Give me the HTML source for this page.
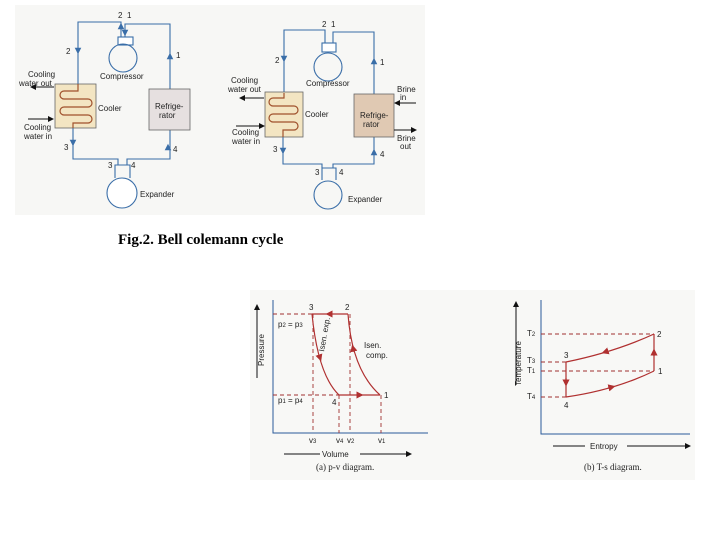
<!DOCTYPE html>
<html><head><meta charset="utf-8"><style>
html,body{margin:0;padding:0;background:#fff;width:720px;height:540px;overflow:hidden}
svg{display:block}
text{font-family:"Liberation Sans",sans-serif;font-size:8px;fill:#222}
.s{font-family:"Liberation Serif",serif}
</style></head><body>
<svg width="720" height="540" viewBox="0 0 720 540">
<defs>
<marker id="a" markerWidth="6" markerHeight="6" refX="3" refY="3" orient="auto"><path d="M0,0L6,3L0,6z" fill="#3a6ea8"/></marker>
<marker id="k" markerWidth="6" markerHeight="6" refX="5" refY="3" orient="auto"><path d="M0,0L6,3L0,6z" fill="#111"/></marker>
<marker id="r" markerWidth="6" markerHeight="6" refX="3" refY="3" orient="auto"><path d="M0,0L6,3L0,6z" fill="#b03030"/></marker>
</defs>
<rect x="15" y="5" width="410" height="210" fill="#f7f7f5"/>
<rect x="250" y="290" width="445" height="190" fill="#f8f8f6"/>
<g stroke="#3a6ea8" stroke-width="1.1" fill="none">
<path d="M78,84V22H121V37M125,37V24H170V89M170,130V159H127V165M118,165V159H73V128"/>
<rect x="118" y="37" width="15" height="8" fill="#fff"/>
<circle cx="123" cy="58" r="14"/>
<path d="M115,178V165H130V178"/>
<circle cx="122" cy="193" r="15" fill="#fff"/>
<path d="M78,50V51" marker-end="url(#a)"/><path d="M170,57V56" marker-end="url(#a)"/>
<path d="M73,142V143" marker-end="url(#a)"/><path d="M168,148V147" marker-end="url(#a)"/>
<path d="M121,27V26" marker-end="url(#a)"/><path d="M125,32V33" marker-end="url(#a)"/>
<path d="M284,93V30H325V43M333,43V32H374V94M374,137V164H333V168M322,168V164H283V137"/>
<rect x="322" y="43" width="14" height="9" fill="#fff"/>
<circle cx="328" cy="67" r="14"/>
<path d="M322,180V168H336V180"/>
<circle cx="328" cy="195" r="14"/>
<path d="M284,58V59" marker-end="url(#a)"/><path d="M374,62V61" marker-end="url(#a)"/>
<path d="M283,150V151" marker-end="url(#a)"/><path d="M374,153V152" marker-end="url(#a)"/>
</g>
<rect x="55" y="84" width="41" height="44" fill="#f3e5c2" stroke="#666" stroke-width="0.8"/>
<rect x="149" y="89" width="41" height="41" fill="#e6e0e0" stroke="#666" stroke-width="0.8"/>
<rect x="265" y="92" width="38" height="45" fill="#f3e5c2" stroke="#666" stroke-width="0.8"/>
<rect x="354" y="94" width="40" height="43" fill="#e0c9b3" stroke="#666" stroke-width="0.8"/>
<path d="M78,84V91H64a4,4 0 0 0 0,8H88a4,4 0 0 1 0,8H64a4,4 0 0 0 0,8H88a4,4 0 0 1 0,8H73V128" fill="none" stroke="#a0522d" stroke-width="1.2"/>
<path d="M284,93V98H273a4,4 0 0 0 0,8H294a4,4 0 0 1 0,8H273a4,4 0 0 0 0,8H294a4,4 0 0 1 0,8H283V137" fill="none" stroke="#a0522d" stroke-width="1.2"/>
<g stroke="#111" stroke-width="1" fill="none">
<path d="M54,87H31" marker-end="url(#k)"/><path d="M28,119H53" marker-end="url(#k)"/>
<path d="M264,98H240" marker-end="url(#k)"/><path d="M236,126H264" marker-end="url(#k)"/>
<path d="M416,103H395" marker-end="url(#k)"/><path d="M394,130H416" marker-end="url(#k)"/>
</g>
<text x="118" y="18">2</text><text x="127" y="18">1</text>
<text x="66" y="54">2</text><text x="176" y="58">1</text>
<text x="64" y="150">3</text><text x="173" y="152">4</text>
<text x="108" y="168">3</text><text x="131" y="168">4</text>
<text x="100" y="79">Compressor</text><text x="98" y="111">Cooler</text>
<text x="155" y="109">Refrige-</text><text x="159" y="118">rator</text>
<text x="140" y="197">Expander</text>
<text x="28" y="77">Cooling</text><text x="19" y="86">water out</text>
<text x="24" y="130">Cooling</text><text x="24" y="139">water in</text>
<text x="322" y="27">2</text><text x="331" y="27">1</text>
<text x="275" y="63">2</text><text x="380" y="65">1</text>
<text x="273" y="152">3</text><text x="380" y="157">4</text>
<text x="315" y="175">3</text><text x="339" y="175">4</text>
<text x="306" y="86">Compressor</text><text x="305" y="117">Cooler</text>
<text x="360" y="118">Refrige-</text><text x="363" y="127">rator</text>
<text x="348" y="202">Expander</text>
<text x="231" y="83">Cooling</text><text x="228" y="92">water out</text>
<text x="232" y="135">Cooling</text><text x="232" y="144">water in</text>
<text x="397" y="92">Brine</text><text x="400" y="100">in</text>
<text x="397" y="141">Brine</text><text x="400" y="149">out</text>
<text class="s" x="118" y="244" style="font-size:15px;font-weight:bold;fill:#000">Fig.2.  Bell colemann cycle</text>
<g fill="none">
<path d="M273,300V433H428" stroke="#2a5a99" stroke-width="1"/>
<g stroke="#a03030" stroke-width="0.9" stroke-dasharray="4,3">
<path d="M273,314H312M273,395H339M313,314V433M339,395V433M350,314V433M381,395V433"/>
</g>
<g stroke="#b03030" stroke-width="1.2">
<path d="M348,314H312"/><path d="M339,395H380"/>
<path d="M312,314Q318,375 339,395"/><path d="M348,314Q352,370 380,395"/>
<path d="M331,314H329" marker-end="url(#r)"/><path d="M357,395H360" marker-end="url(#r)"/>
<path d="M319,355L320,358" marker-end="url(#r)"/><path d="M354,352L353,348" marker-end="url(#r)"/>
</g>
<path d="M257,378V305" stroke="#111" stroke-width="1" marker-end="url(#k)"/>
<path d="M284,454H320M360,454H410" stroke="#111" stroke-width="1"/><path d="M400,454H411" stroke="#111" marker-end="url(#k)"/>
</g>
<text x="309" y="310">3</text><text x="345" y="310">2</text><text x="384" y="398">1</text><text x="332" y="405">4</text>
<text x="278" y="327">p<tspan font-size="6">2</tspan> = p<tspan font-size="6">3</tspan></text>
<text x="278" y="403">p<tspan font-size="6">1</tspan> = p<tspan font-size="6">4</tspan></text>
<text x="364" y="348">Isen.</text><text x="366" y="358">comp.</text>
<text transform="translate(324,352) rotate(-80)">Isen. exp.</text>
<text transform="translate(264,366) rotate(-90)">Pressure</text>
<text x="309" y="443">v<tspan font-size="6">3</tspan></text><text x="336" y="443">v<tspan font-size="6">4</tspan></text>
<text x="347" y="443">v<tspan font-size="6">2</tspan></text><text x="378" y="443">v<tspan font-size="6">1</tspan></text>
<text x="322" y="457">Volume</text>
<text class="s" x="316" y="470" style="font-size:9px">(a) p-v diagram.</text>
<g fill="none">
<path d="M541,300V434H690" stroke="#2a5a99" stroke-width="1"/>
<g stroke="#a03030" stroke-width="0.9" stroke-dasharray="4,3">
<path d="M541,334H654M541,362H566M541,371H654M541,397H566"/>
</g>
<g stroke="#b03030" stroke-width="1.2">
<path d="M566,362V397M654,334V371"/>
<path d="M566,362Q615,352 654,334"/><path d="M566,397Q615,390 654,371"/>
<path d="M566,378V383" marker-end="url(#r)"/><path d="M654,356V352" marker-end="url(#r)"/>
<path d="M608,351L605,352" marker-end="url(#r)"/><path d="M608,388L612,387" marker-end="url(#r)"/>
</g>
<path d="M553,446H585M627,446H680" stroke="#111" stroke-width="1"/><path d="M670,446H690" stroke="#111" marker-end="url(#k)"/>
<path d="M516,385V302" stroke="#111" stroke-width="1" marker-end="url(#k)"/>
</g>
<text x="657" y="337">2</text><text x="658" y="374">1</text><text x="564" y="358">3</text><text x="564" y="408">4</text>
<text x="527" y="336">T<tspan font-size="6">2</tspan></text><text x="527" y="363">T<tspan font-size="6">3</tspan></text>
<text x="527" y="373">T<tspan font-size="6">1</tspan></text><text x="527" y="399">T<tspan font-size="6">4</tspan></text>
<text transform="translate(521,386) rotate(-90)">Temperature</text>
<text x="590" y="449">Entropy</text>
<text class="s" x="584" y="470" style="font-size:9px">(b) T-s diagram.</text>
</svg>
</body></html>
